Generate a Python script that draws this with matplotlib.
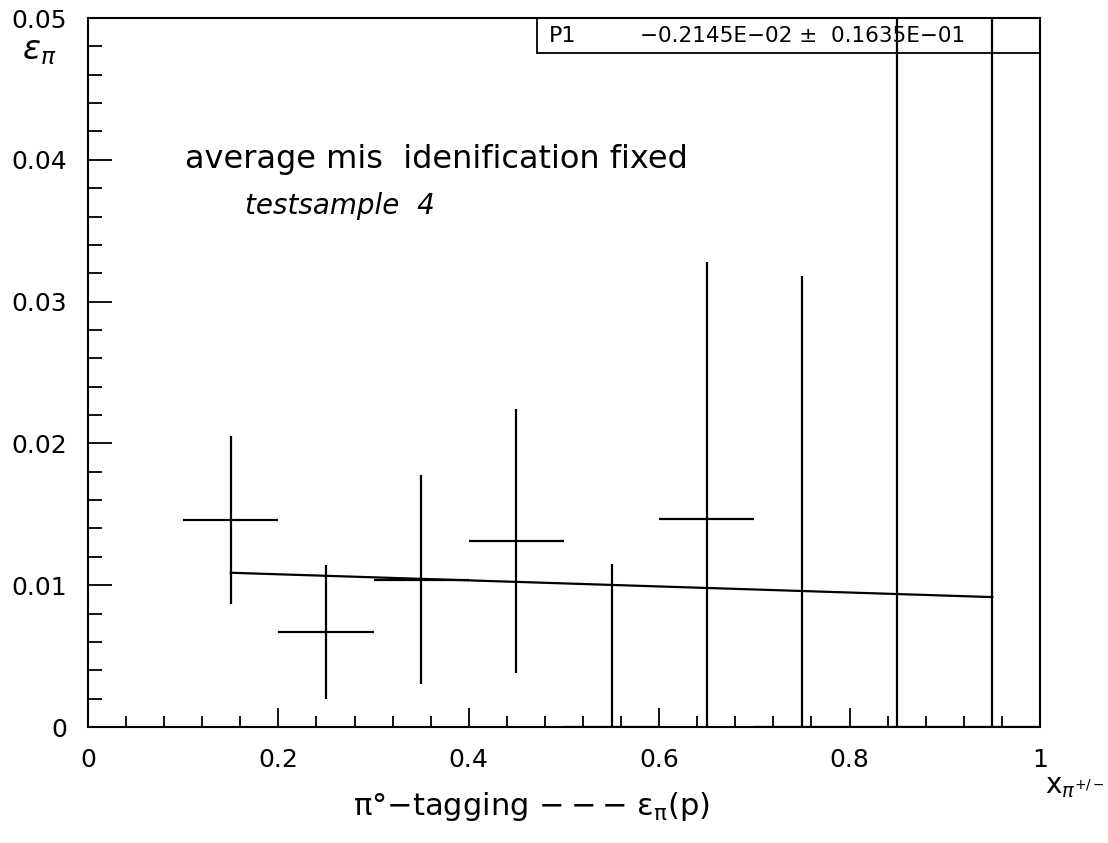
import numpy as np
import matplotlib.pyplot as plt
from matplotlib.patches import Rectangle
from matplotlib.ticker import MultipleLocator

# bin centres, values and errors
x_centres = [0.15, 0.25, 0.35, 0.45, 0.55, 0.65, 0.75, 0.85, 0.95]
eps_pi = [0.0146, 0.0067, 0.0104, 0.0131, 0.0, 0.0147, 0.0, 0.0, 0.0]
eps_err = [0.0059, 0.0047, 0.0074, 0.0093, 0.0115, 0.0181, 0.0318, 0.0600, 0.0600]
bin_half = 0.05

# linear fit p0 + p1*x
p0 = 0.0112
p1 = -0.2145E-02
p1_err = 0.1635E-01
fit_range = [0.15, 0.95]

plt.rcParams['font.family'] = ['DejaVu Sans']

fig = plt.figure(figsize=(11.08, 8.43), dpi=100)
ax = fig.add_axes([0.0794, 0.1376, 0.8592, 0.841])

ax.errorbar(x_centres, eps_pi, xerr=bin_half, yerr=eps_err, fmt='none',
            ecolor='black', elinewidth=1.6, capsize=0)

xf = np.array(fit_range)
ax.plot(xf, p0 + p1 * xf, color='black', lw=1.6)

ax.set_xlim(0, 1)
ax.set_ylim(0, 0.05)

ax.xaxis.set_minor_locator(MultipleLocator(0.04))
ax.yaxis.set_minor_locator(MultipleLocator(0.002))
ax.set_xticks([0, 0.2, 0.4, 0.6, 0.8, 1.0])
ax.set_xticklabels(['0', '0.2', '0.4', '0.6', '0.8', '1'])
ax.set_yticks([0, 0.01, 0.02, 0.03, 0.04, 0.05])
ax.set_yticklabels(['0', '0.01', '0.02', '0.03', '0.04', '0.05'])

ax.tick_params(which='both', direction='in', top=False, right=False, width=1.3)
ax.tick_params(axis='x', which='major', length=14, labelsize=18, pad=15)
ax.tick_params(axis='x', which='minor', length=8)
ax.tick_params(axis='y', which='major', length=17, labelsize=18, pad=15)
ax.tick_params(axis='y', which='minor', length=10)
for s in ax.spines.values():
    s.set_linewidth(1.5)

# stats box
ax.add_patch(Rectangle((0.472, 0.951), 0.528, 0.049, transform=ax.transAxes,
                       fill=False, edgecolor='black', lw=1.3, clip_on=False))
ax.text(0.484, 0.975, 'P1', transform=ax.transAxes, fontsize=16,
        va='center', ha='left')
ax.text(0.580, 0.975, '\u22120.2145E\u221202 \u00b1  0.1635E\u221201',
        transform=ax.transAxes, fontsize=15.5, va='center', ha='left')

ax.text(0.102, 0.80, 'average mis  idenification fixed', transform=ax.transAxes,
        fontsize=23, va='center', ha='left')
ax.text(0.165, 0.735, 'testsample  4', transform=ax.transAxes,
        fontsize=20, style='italic', va='center', ha='left')

fig.text(0.035, 0.94, r'$\varepsilon_{\pi}$', fontsize=24, ha='center', va='center')
fig.text(0.48, 0.043, '\u03c0°\u2212tagging \u2212\u2009\u2212\u2009\u2212 '
         + r'$\mathrm{\varepsilon_{\pi}}$(p)',
         fontsize=22, ha='center', va='center')
fig.text(0.997, 0.068, r'x$_{\pi^{+/-}}$', fontsize=20, ha='right', va='center')

fig.savefig('out.png', dpi=100)
